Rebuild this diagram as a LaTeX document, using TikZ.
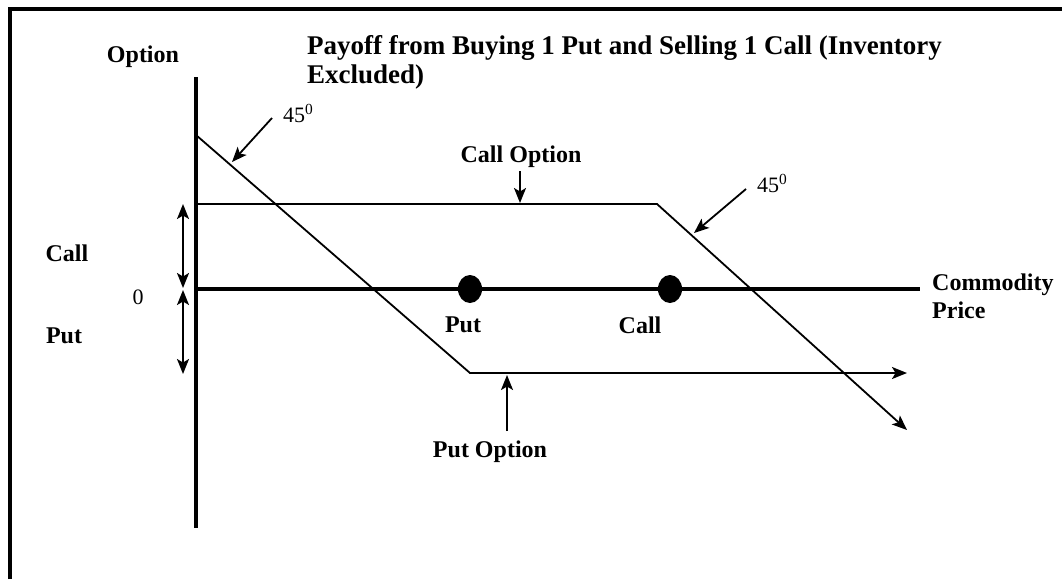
\documentclass[tikz,border=0pt]{standalone}
\usepackage{fontspec}
\setmainfont{Liberation Serif}
\usetikzlibrary{arrows.meta,shapes.geometric}
\begin{document}
\begin{tikzpicture}[x=1pt,y=-1pt,
  frame/.style={line width=4pt},
  axis/.style={line width=4.3pt},
  curve/.style={line width=1.8pt},
  tip/.tip={Stealth[length=15pt,width=12pt,inset=3.5pt]},
  pointer/.style={line width=1.8pt,-tip},
  both/.style={line width=1.8pt,tip-tip},
  lbl/.style={font=\fontsize{24}{28}\selectfont\bfseries,inner sep=0pt},
  head/.style={font=\fontsize{27}{29}\selectfont\bfseries,inner sep=0pt,align=left},
  num/.style={font=\fontsize{22}{26}\selectfont,inner sep=0pt},
  strike/.style={ellipse,fill=black,inner sep=0pt,minimum width=24pt,minimum height=28pt}]
\useasboundingbox (0,0) rectangle (1062,579);

% outer frame (top and left edges)
\coordinate (fbl) at (10,579);
\coordinate (ftl) at (10,9);
\coordinate (ftr) at (1062,9);
\draw[frame] (fbl) -- (ftl) -- (ftr);

% axes
\coordinate (ytop) at (196,77);
\coordinate (ybot) at (196,528);
\coordinate (orig) at (196,289);
\coordinate (xend) at (920,289);
\draw[axis] (ytop) -- (ybot);
\draw[axis] (orig) -- (xend);

% short call payoff
\coordinate (c0) at (196,204);
\coordinate (ck) at (657,204);
\coordinate (cend) at (907,430);
\draw[curve,-tip] (c0) -- (ck) -- (cend);

% long put payoff
\coordinate (p0) at (196,135);
\coordinate (pk) at (470,373);
\coordinate (pend) at (907,373);
\draw[curve,-tip] (p0) -- (pk) -- (pend);

% strike prices
\node[strike] (kput) at (470,289) {};
\node[strike] (kcall) at (670,289) {};
\node[lbl] (kputl) at (463,325) {Put};
\node[lbl] (kcalll) at (640,325) {Call};

% premium ranges on the vertical axis
\coordinate (ua) at (183,204);
\coordinate (ub) at (183,288);
\coordinate (la) at (183,290);
\coordinate (lb) at (183,374);
\draw[both] (ua) -- (ub);
\draw[both] (la) -- (lb);
\node[lbl] (callside) at (67,253) {Call};
\node[lbl] (putside) at (64,336) {Put};
\node[num] (zero) at (138,297) {0};

% axis and chart labels
\node[lbl] (opt) at (143,57) {Option};
\node[head,anchor=north west] (title) at (307,35)
  {Payoff from Buying 1 Put and Selling 1 Call (Inventory\\Excluded)};
\node[lbl,align=left,anchor=west] (price) at (932,296) {Commodity\\Price};

% slope markers
\node[num,anchor=base west] (deg1) at (283,122) {45\textsuperscript{0}};
\node[num,anchor=base west] (deg2) at (757,192) {45\textsuperscript{0}};
\coordinate (a1s) at (272,118);
\coordinate (a1e) at (232,162);
\coordinate (a2s) at (746,189);
\coordinate (a2e) at (694,233);
\draw[pointer] (a1s) -- (a1e);
\draw[pointer] (a2s) -- (a2e);

% payoff line labels
\node[lbl] (callopt) at (521,157) {Call Option};
\coordinate (cos) at (520,171);
\coordinate (coe) at (520,203);
\draw[pointer] (cos) -- (coe);
\node[lbl] (putopt) at (490,452) {Put Option};
\coordinate (pos) at (507,431);
\coordinate (poe) at (507,375);
\draw[pointer] (pos) -- (poe);
\end{tikzpicture}
\end{document}
